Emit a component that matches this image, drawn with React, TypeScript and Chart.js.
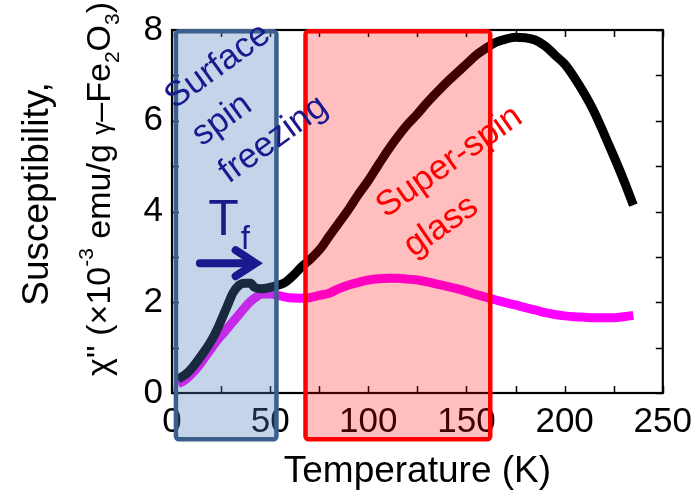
import React, { useEffect, useRef } from "react";
import { Chart, registerables } from "chart.js";

Chart.register(...registerables);

// Temperature (K) and chi'' (x10^-3 emu/g)
const blackTemps = [3, 8, 12, 17, 20, 23, 26, 28, 31, 34, 37, 40, 42, 45, 48, 52, 57, 62, 66, 71, 76, 80, 85, 90, 95, 100, 105, 110, 115, 120, 125, 130, 135, 140, 145, 150, 155, 160, 165, 170, 175, 180, 185, 190, 195, 200, 205, 210, 215, 220, 225, 230, 235];
const blackChi = [0.3, 0.45, 0.65, 0.95, 1.15, 1.4, 1.7, 1.9, 2.2, 2.37, 2.42, 2.42, 2.33, 2.3, 2.31, 2.35, 2.42, 2.6, 2.78, 2.97, 3.2, 3.45, 3.75, 4.05, 4.38, 4.68, 5.02, 5.35, 5.65, 5.92, 6.15, 6.4, 6.63, 6.85, 7.05, 7.25, 7.45, 7.6, 7.73, 7.8, 7.84, 7.83, 7.78, 7.65, 7.45, 7.25, 6.95, 6.6, 6.2, 5.72, 5.22, 4.7, 4.14];

const magentaTemps = [3, 7, 10, 14, 17, 20, 23, 27, 30, 34, 37, 40, 43, 46, 50, 55, 60, 65, 70, 75, 80, 85, 90, 95, 100, 105, 110, 115, 120, 125, 130, 135, 140, 145, 150, 155, 160, 165, 170, 175, 180, 185, 190, 195, 200, 205, 210, 215, 220, 225, 230, 235];
const magentaChi = [0.2, 0.3, 0.42, 0.62, 0.8, 0.98, 1.16, 1.36, 1.52, 1.72, 1.88, 2.02, 2.12, 2.18, 2.18, 2.14, 2.1, 2.09, 2.1, 2.15, 2.2, 2.3, 2.38, 2.44, 2.49, 2.52, 2.53, 2.53, 2.51, 2.49, 2.45, 2.4, 2.35, 2.3, 2.24, 2.17, 2.11, 2.05, 1.99, 1.94, 1.88, 1.83, 1.77, 1.73, 1.7, 1.68, 1.67, 1.66, 1.66, 1.66, 1.68, 1.71];

const xMin = 0;
const xMax = 250;
const xMajorStep = 50;
const xMinorStep = 25;
const yMin = 0;
const yMax = 8;
const yMajorStep = 2;
const yMinorStep = 1;

// shaded regions in data units: [T start, T end, chi bottom, chi top]
const surfaceRegion = [2.0, 53.2, -1.02, 7.97];
const glassRegion = [68.0, 162.1, -1.02, 7.97];

const surfaceLines = ["Surface", "spin", "freezing"];
const glassLines = ["Super-spin", "glass"];

const FONT = "'Liberation Sans', Arial, Helvetica, sans-serif";
const NAVY = "#1a1a8e";

type Seg = { t: string; size: number; dy: number };

function drawRich(ctx: CanvasRenderingContext2D, segs: Seg[]) {
  let total = 0;
  const widths = segs.map((s) => {
    ctx.font = `${s.size}px ${FONT}`;
    const w = ctx.measureText(s.t).width;
    total += w;
    return w;
  });
  let xPos = -total / 2;
  segs.forEach((s, i) => {
    ctx.font = `${s.size}px ${FONT}`;
    ctx.fillText(s.t, xPos, s.dy);
    xPos += widths[i];
  });
}

const overlayPlugin = {
  id: "overlay",
  afterDraw(chart: any) {
    const ctx: CanvasRenderingContext2D = chart.ctx;
    const a = chart.chartArea;
    const xs = chart.scales.x;
    const ys = chart.scales.y;
    const px = (v: number) => xs.getPixelForValue(v);
    const py = (v: number) => ys.getPixelForValue(v);
    ctx.save();

    // frame and inward ticks
    ctx.strokeStyle = "#000";
    ctx.lineWidth = 1.5;
    const tl = 7;
    ctx.beginPath();
    for (let v = xMin; v <= xMax; v += xMinorStep) {
      const p = Math.round(px(v)) + 0.5;
      ctx.moveTo(p, a.bottom);
      ctx.lineTo(p, a.bottom - tl);
      ctx.moveTo(p, a.top);
      ctx.lineTo(p, a.top + tl);
    }
    for (let v = yMin; v <= yMax; v += yMinorStep) {
      const p = Math.round(py(v)) + 0.5;
      ctx.moveTo(a.left, p);
      ctx.lineTo(a.left + tl, p);
      ctx.moveTo(a.right, p);
      ctx.lineTo(a.right - tl, p);
    }
    ctx.stroke();
    ctx.lineWidth = 2.2;
    ctx.strokeRect(a.left, a.top, a.right - a.left, a.bottom - a.top);

    // axis titles
    ctx.fillStyle = "#000";
    ctx.textBaseline = "alphabetic";
    ctx.textAlign = "left";
    ctx.save();
    ctx.font = `37px ${FONT}`;
    ctx.textAlign = "center";
    ctx.fillText("Temperature (K)", (a.left + a.right) / 2, 482);
    ctx.restore();

    ctx.save();
    ctx.translate(48, 194);
    ctx.rotate(-Math.PI / 2);
    drawRich(ctx, [{ t: "Susceptibility,", size: 37, dy: 0 }]);
    ctx.restore();

    ctx.save();
    ctx.translate(110, 189);
    ctx.rotate(-Math.PI / 2);
    drawRich(ctx, [
      { t: "\u03c7'' (\u00d710", size: 34, dy: 0 },
      { t: "-3", size: 21, dy: -17 },
      { t: " emu/g ", size: 34, dy: 0 },
      { t: "\u03b3", size: 26, dy: 0 },
      { t: "\u2013Fe", size: 34, dy: 0 },
      { t: "2", size: 21, dy: 9 },
      { t: "O", size: 34, dy: 0 },
      { t: "3", size: 21, dy: 9 },
      { t: ")", size: 34, dy: 0 },
    ]);
    ctx.restore();

    // shaded regions
    const drawBox = (r: number[], fill: string, stroke: string) => {
      const x0 = px(r[0]);
      const x1 = px(r[1]);
      const y0 = py(r[3]);
      const y1 = py(r[2]);
      ctx.beginPath();
      if ((ctx as any).roundRect) (ctx as any).roundRect(x0, y0, x1 - x0, y1 - y0, 3);
      else ctx.rect(x0, y0, x1 - x0, y1 - y0);
      ctx.fillStyle = fill;
      ctx.fill();
      ctx.lineWidth = 4.5;
      ctx.strokeStyle = stroke;
      ctx.stroke();
    };
    drawBox(surfaceRegion, "rgba(79,129,189,0.33)", "#3b5e8c");
    drawBox(glassRegion, "rgba(255,0,0,0.25)", "#ff0000");

    // annotation texts
    const rotLines = (lines: string[], tx: number, tv: number, ang: number, size: number, lh: number, color: string) => {
      ctx.save();
      ctx.translate(px(tx), py(tv));
      ctx.rotate(ang);
      ctx.font = `${size}px ${FONT}`;
      ctx.fillStyle = color;
      ctx.textAlign = "left";
      ctx.textBaseline = "middle";
      lines.forEach((l, i) => ctx.fillText(l, 0, i * lh));
      ctx.restore();
    };
    rotLines(surfaceLines, -1.5, 6.42, (-36 * Math.PI) / 180, 35, 46, NAVY);
    rotLines(glassLines, 106, 4.02, (-35 * Math.PI) / 180, 35, 48, "#ff0000");

    // T_f label
    ctx.fillStyle = NAVY;
    ctx.textAlign = "left";
    ctx.textBaseline = "alphabetic";
    ctx.font = `50px ${FONT}`;
    ctx.fillText("T", px(18.5), py(3.49));
    ctx.font = `33px ${FONT}`;
    ctx.fillText("f", px(35), py(3.18));

    // arrow
    const ay = py(2.86);
    const ax0 = px(14.2);
    const ax1 = px(42.6);
    ctx.strokeStyle = NAVY;
    ctx.lineWidth = 8;
    ctx.lineCap = "round";
    ctx.lineJoin = "miter";
    ctx.beginPath();
    ctx.moveTo(ax0, ay);
    ctx.lineTo(ax1 - 3, ay);
    ctx.stroke();
    ctx.beginPath();
    ctx.moveTo(ax1 - 20, ay - 13);
    ctx.lineTo(ax1, ay);
    ctx.lineTo(ax1 - 20, ay + 13);
    ctx.stroke();

    ctx.restore();
  },
};

export default function App() {
  const ref = useRef<HTMLCanvasElement | null>(null);
  useEffect(() => {
    if (!ref.current) return;
    const chart = new Chart(ref.current, {
      type: "line",
      data: {
        datasets: [
          {
            label: "black",
            data: blackTemps.map((t, i) => ({ x: t, y: blackChi[i] })),
            borderColor: "#000000",
            borderWidth: 9,
            pointRadius: 0,
            cubicInterpolationMode: "monotone",
            fill: false,
          },
          {
            label: "magenta",
            data: magentaTemps.map((t, i) => ({ x: t, y: magentaChi[i] })),
            borderColor: "#ff00ff",
            borderWidth: 9,
            pointRadius: 0,
            cubicInterpolationMode: "monotone",
            fill: false,
          },
        ],
      },
      options: {
        animation: false,
        responsive: false,
        devicePixelRatio: 1,
        layout: { padding: { left: 0, right: 35, top: 26, bottom: 0 } },
        plugins: { legend: { display: false }, tooltip: { enabled: false } },
        scales: {
          x: {
            type: "linear",
            min: xMin,
            max: xMax,
            grid: { display: false, drawTicks: false },
            border: { display: false },
            ticks: { stepSize: xMajorStep, color: "#000", padding: 8, font: { size: 35, family: FONT } },
            afterFit: (s: any) => {
              s.height = 98;
            },
          },
          y: {
            type: "linear",
            min: yMin,
            max: yMax,
            grid: { display: false, drawTicks: false },
            border: { display: false },
            ticks: { stepSize: yMajorStep, color: "#000", padding: 9, font: { size: 35, family: FONT } },
            afterFit: (s: any) => {
              s.width = 172;
            },
          },
        },
      } as any,
      plugins: [overlayPlugin],
    });
    return () => chart.destroy();
  }, []);
  return (
    <div style={{ position: "absolute", left: 0, top: 0, width: 700, height: 491, background: "#fff" }}>
      <canvas ref={ref} width={700} height={491} style={{ display: "block" }} />
    </div>
  );
}
